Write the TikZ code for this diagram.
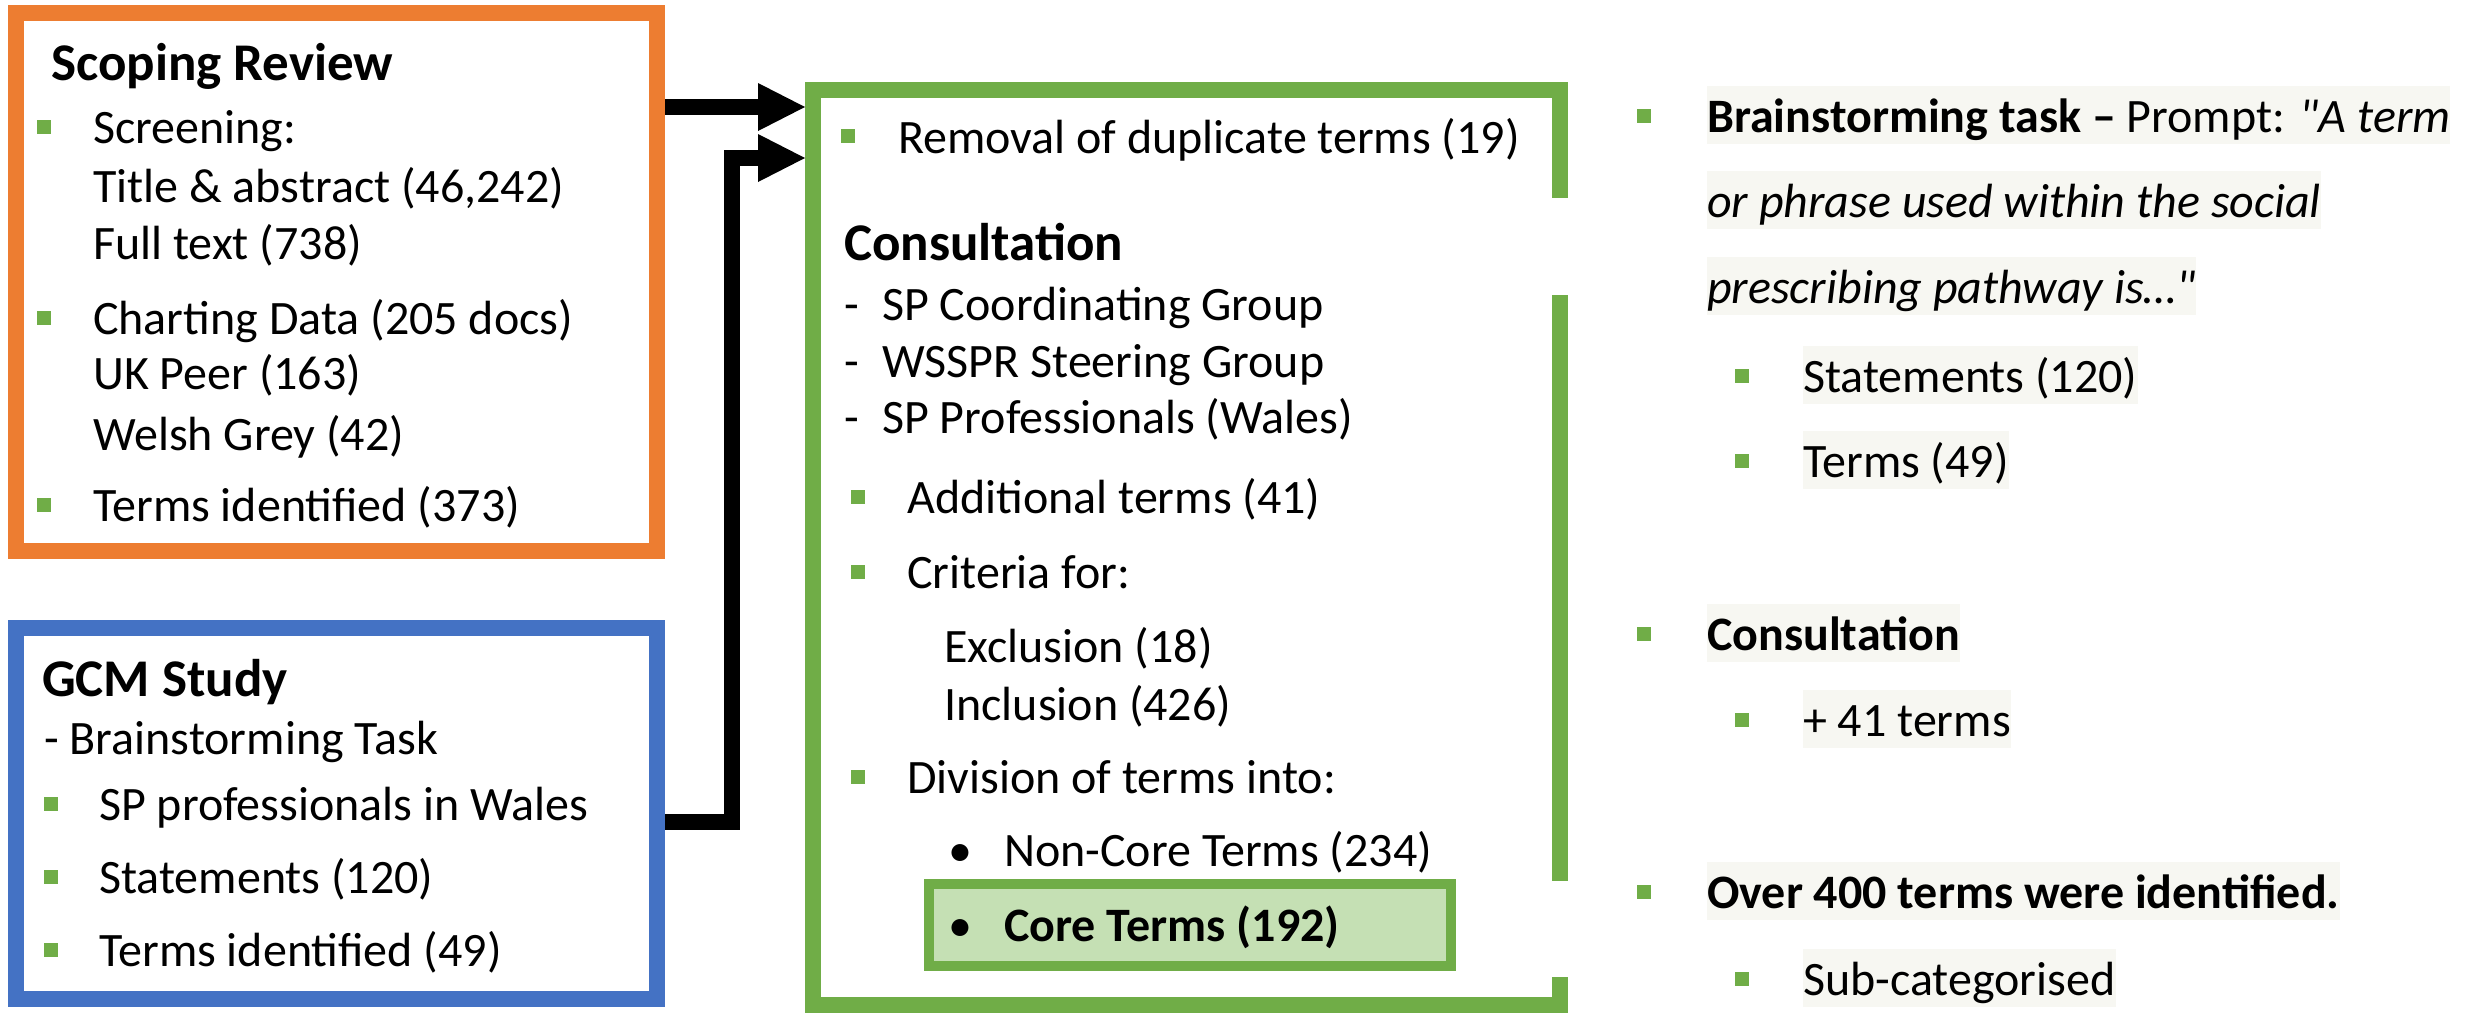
\documentclass[tikz,border=0pt]{standalone}
\usepackage{fontspec}
\setmainfont{Carlito}[Ligatures=TeXOff]
\usetikzlibrary{arrows.meta}
\definecolor{boxorange}{HTML}{ED7D31}
\definecolor{boxblue}{HTML}{4472C4}
\definecolor{boxgreen}{HTML}{70AD47}
\definecolor{coregreen}{HTML}{C5E0B4}
\definecolor{hlgray}{HTML}{F7F7F2}

\begin{document}
\begin{tikzpicture}[x=1pt,y=-1pt,
  txt/.style={anchor=base west, inner sep=0pt, font=\fontsize{48}{58}\selectfont},
  ttl/.style={txt, font=\fontsize{53}{64}\selectfont\bfseries},
  sq/.style={fill=boxgreen, minimum size=14pt, inner sep=0pt},
  hl/.style={txt, fill=hlgray, text height=46pt, text depth=12pt},
  arr/.style={line width=16pt, line join=miter, -{Triangle[length=47pt,width=48pt,line width=0pt]}}]
\useasboundingbox (0,0) rectangle (2468,1015);

% boxes
\node[draw=boxorange, line width=16pt, minimum width=641pt, minimum height=538pt] (scoping) at (336.5,282) {};
\node[draw=boxblue, line width=16pt, minimum width=641pt, minimum height=371pt] (gcm) at (336.5,813.5) {};
\node[draw=boxgreen, line width=16pt, minimum width=747pt, minimum height=915pt] (consult) at (1186.5,547.5) {};
\fill[white] (1545,198) rectangle (1575,295);
\fill[white] (1545,881) rectangle (1575,977);
\node[draw=boxgreen, fill=coregreen, line width=10pt, minimum width=522pt, minimum height=82pt] (core) at (1190,925) {};

% scoping review
\node[ttl] (sr) at (51,80) {Scoping Review};
\node[sq] (sq1) at (44,127) {};
\node[txt] (scr) at (93,143) {Screening:};
\node[txt] (tia) at (93,202) {Title \& abstract (46,242)};
\node[txt] (ful) at (93,259) {Full text (738)};
\node[sq] (sq2) at (44,318) {};
\node[txt] (cha) at (93,334) {Charting Data (205 docs)};
\node[txt] (ukp) at (93,389) {UK Peer (163)};
\node[txt] (wgr) at (93,450) {Welsh Grey (42)};
\node[sq] (sq3) at (44,505) {};
\node[txt] (tid) at (93,521) {Terms identified (373)};

% gcm study
\node[ttl] (gs) at (42,696) {GCM Study};
\node[txt] (bt) at (44,754) {- Brainstorming Task};
\node[sq] (sq4) at (51,804) {};
\node[txt] (spw) at (99,820) {SP professionals in Wales};
\node[sq] (sq5) at (51,877) {};
\node[txt] (st) at (99,893) {Statements (120)};
\node[sq] (sq6) at (51,950) {};
\node[txt] (ti) at (99,966) {Terms identified (49)};

% consultation
\node[sq] (sq7) at (848,136) {};
\node[txt] (rem) at (898,153) {Removal of duplicate terms (19)};
\node[ttl] (con) at (844,260) {Consultation};
\node[txt] (g1) at (844,320) {\makebox[38pt][l]{-}SP Coordinating Group};
\node[txt] (g2) at (844,377) {\makebox[38pt][l]{-}WSSPR Steering Group};
\node[txt] (g3) at (844,433) {\makebox[38pt][l]{-}SP Professionals (Wales)};
\node[sq] (sq8) at (858,497) {};
\node[txt] (add) at (907,513) {Additional terms (41)};
\node[sq] (sq9) at (858,572) {};
\node[txt] (cri) at (907,588) {Criteria for:};
\node[txt] (exc) at (944,662) {Exclusion (18)};
\node[txt] (inc) at (944,720) {Inclusion (426)};
\node[sq] (sq10) at (858,777) {};
\node[txt] (div) at (907,793) {Division of terms into:};
\node[txt] (d1) at (948,866) {•};
\node[txt] (nct) at (1004,866) {Non-Core Terms (234)};
\node[txt] (d2) at (948,941) {•};
\node[txt] (ct) at (1004,941) {\bfseries Core Terms (192)};

% summary
\node[sq] (r1) at (1644,116) {};
\node[hl] (p1) at (1707,132) {\textbf{Brainstorming task –} Prompt: \textit{"A term}\hspace{14pt}};
\node[hl] (p2) at (1707,217) {\textit{or phrase used within the social}};
\node[hl] (p3) at (1707,303) {\textit{prescribing pathway is…"}};
\node[sq] (r2) at (1742,376) {};
\node[hl] (s1) at (1803,392) {Statements (120)};
\node[sq] (r3) at (1742,461) {};
\node[hl] (s2) at (1803,477) {Terms (49)};
\node[sq] (r4) at (1644,634) {};
\node[hl] (c1) at (1707,650) {\bfseries Consultation};
\node[sq] (r5) at (1742,720) {};
\node[hl] (c2) at (1803,736) {+ 41 terms};
\node[sq] (r6) at (1644,892) {};
\node[hl] (o1) at (1707,908) {\bfseries Over 400 terms were identified.};
\node[sq] (r7) at (1742,979) {};
\node[hl] (o2) at (1803,995) {Sub-categorised};

% arrows
\coordinate (a1) at (0,107);
\coordinate (b1) at (732,822);
\coordinate (b2) at (732,158);
\draw[arr] (scoping.east |- a1) -- (consult.west |- a1);
\draw[arr] (gcm.east |- b1) -- (b1) -- (b2) -- (consult.west |- b2);
\end{tikzpicture}
\end{document}
